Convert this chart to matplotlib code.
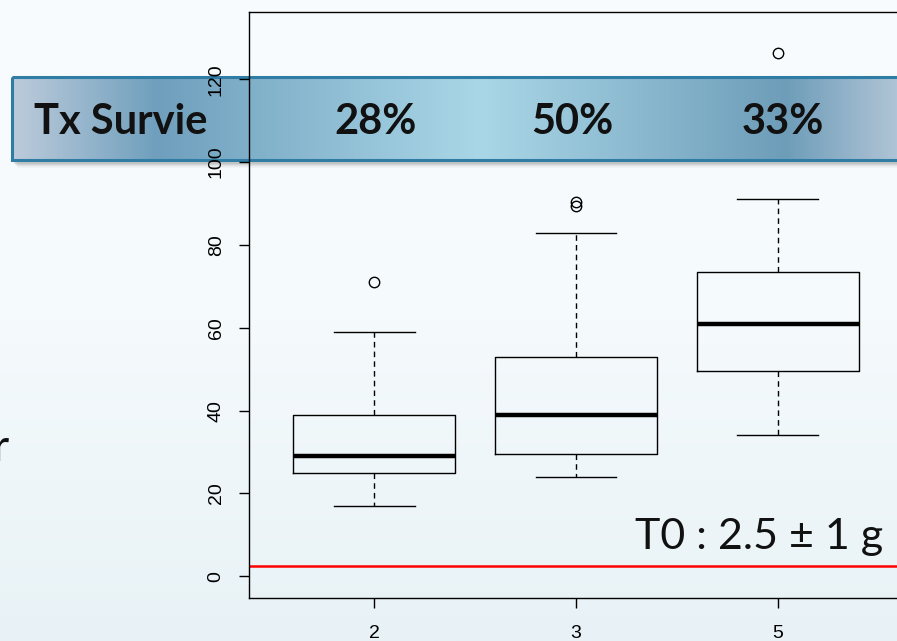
import numpy as np
import matplotlib
matplotlib.use("Agg")
import matplotlib.pyplot as plt
from matplotlib.patches import Rectangle
from matplotlib.colors import LinearSegmentedColormap

# ---- data ----
categories = ["2", "3", "5"]
whis_low = [17, 24, 34]
q1 = [25, 29.5, 49.5]
median = [29, 39, 61]
q3 = [39, 53, 73.5]
whis_high = [59, 83, 91]
outliers = [[71], [89.5, 90.3], [126.3]]
survival_labels = ["28%", "50%", "33%"]
t0_value = 2.5
t0_text = "T0 : 2.5 \u00b1 1 g"
yticks = [0, 20, 40, 60, 80, 100, 120]

W, H = 897, 641
fig = plt.figure(figsize=(W / 100, H / 100), dpi=100)

# ---- background (slide) ----
bg = fig.add_axes([0, 0, 1, 1], zorder=0)
bg.set_xlim(0, W)
bg.set_ylim(H, 0)
bg.axis("off")
bgcm = LinearSegmentedColormap.from_list("bg", ["#f9fcfe", "#f5fafc", "#e8f2f6"])
grad = np.linspace(0, 1, 256).reshape(-1, 1)
bg.imshow(grad, cmap=bgcm, extent=[0, W, H, 0], aspect="auto", zorder=0)

# banner shadow
for i, a in enumerate([0.10, 0.08, 0.06, 0.04, 0.03]):
    bg.add_patch(Rectangle((12 + 2 + i, 77 + 3 + i), 920, 84, facecolor="#404040",
                           alpha=a, edgecolor="none", zorder=1))
# banner gradient
bcm = LinearSegmentedColormap.from_list(
    "ban", [(0.0, "#bccbdb"), (0.16, "#6f9fbd"), (0.52, "#aad7e7"),
            (0.86, "#6e9db9"), (1.0, "#b8c9da")])
hgrad = np.linspace(0, 1, 512).reshape(1, -1)
bg.imshow(hgrad, cmap=bcm, extent=[12, 912, 160, 77], aspect="auto", zorder=2)
bg.add_patch(Rectangle((12, 77), 900, 83, facecolor="none", edgecolor="#2f7ca5",
                       linewidth=2.2, zorder=3))
bg.set_xlim(0, W)
bg.set_ylim(H, 0)

bg.text(121, 134, "Tx Survie", fontsize=30, fontweight="bold", family="Lato",
        ha="center", va="baseline", color="#111111", zorder=4)
for xc, lab in zip([376, 572, 783], survival_labels):
    bg.text(xc, 134, lab, fontsize=30, fontweight="bold", family="Lato",
            ha="center", va="baseline", color="#111111", zorder=4)
bg.text(883, 549, t0_text, fontsize=31, family="Lato", ha="right",
        va="baseline", color="#111111", zorder=4)
bg.text(9, 461, "r", fontsize=32, family="Lato", ha="right", va="baseline",
        color="#111111", zorder=4)

# ---- boxplot axes ----
left, right, top, bottom = 249, 903, 12, 598
ax = fig.add_axes([left / W, (H - bottom) / H, (right - left) / W, (bottom - top) / H],
                  zorder=2)
ax.patch.set_alpha(0)

stats = []
for i in range(len(categories)):
    stats.append(dict(whislo=whis_low[i], q1=q1[i], med=median[i], q3=q3[i],
                      whishi=whis_high[i], fliers=outliers[i], label=categories[i]))
ax.bxp(stats, positions=[1, 2, 3], widths=0.8, showfliers=True,
       boxprops=dict(color="black", linewidth=1),
       medianprops=dict(color="black", linewidth=3.2),
       whiskerprops=dict(color="black", linewidth=1, linestyle=(0, (4, 3))),
       capprops=dict(color="black", linewidth=1),
       capwidths=0.4,
       flierprops=dict(marker="o", markerfacecolor="none", markeredgecolor="black",
                       markersize=7.5, markeredgewidth=1))
ax.axhline(t0_value, color="red", linewidth=1.8, zorder=0.5)

ax.set_xlim(0.38, 3.62)
ax.set_ylim(-5.24, 136.24)
ax.set_xticks([1, 2, 3])
ax.set_xticklabels(categories, family="Liberation Sans", fontsize=14)
ax.set_yticks(yticks)
ax.set_yticklabels([str(v) for v in yticks], family="Liberation Sans", fontsize=14,
                   rotation=90, va="center")
ax.tick_params(axis="y", length=7.5, width=1, pad=10)
ax.tick_params(axis="x", length=7.5, width=1, pad=12)
for s in ax.spines.values():
    s.set_linewidth(1)
    s.set_color("black")

fig.savefig("out.png", dpi=100)
